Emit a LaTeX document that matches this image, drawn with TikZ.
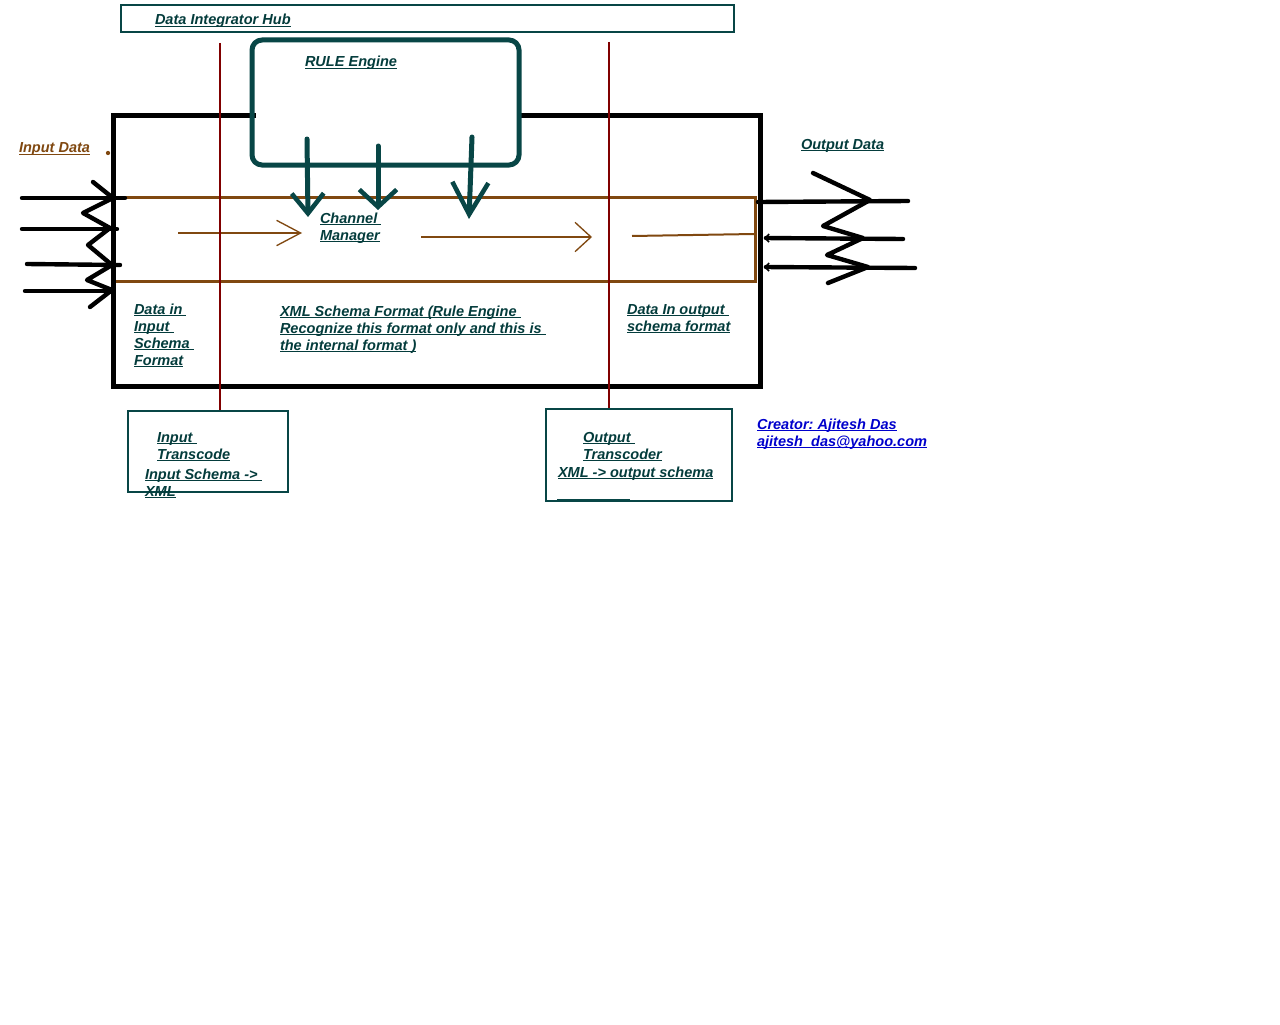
\documentclass[tikz,border=0pt]{standalone}
\usepackage{fontspec}
\setmainfont{Liberation Sans}
\usetikzlibrary{arrows.meta,fit}
\definecolor{tealc}{RGB}{8,70,70}
\definecolor{tealtxt}{RGB}{4,60,60}
\definecolor{brownc}{RGB}{128,72,16}
\definecolor{redc}{RGB}{128,0,0}
\definecolor{bluec}{RGB}{0,0,204}
\frenchspacing
\newcommand{\st}{\rule{0pt}{8.25pt}}
\newcommand{\uln}[1]{\leavevmode\setbox0=\hbox{#1}\rlap{\vrule width\wd0 height -1.0pt depth 1.6pt}\box0}
\begin{document}
\begin{tikzpicture}[x=0.75pt,y=-0.75pt,
  lbl/.style={anchor=north west, inner sep=0pt, outer sep=0pt, align=left,
    font=\fontsize{10.9}{12.75}\selectfont\bfseries\itshape, text=tealtxt},
  boxthin/.style={draw=tealc, line width=1.5pt, inner sep=0pt},
  blkline/.style={draw=black, line width=3.3pt, line cap=round, line join=round},
  redline/.style={draw=redc, line width=1.5pt},
  brownarrow/.style={draw=brownc, line width=1.5pt},
  tealarrow/.style={draw=tealc, line width=3.75pt, line cap=round}]
\useasboundingbox (0,0) rectangle (1280,1024);
\fill[white] (0,0) rectangle (1280,1024);

% hub title box
\node[boxthin, fit={(121,5) (734,32)}] (hub) {};

% brown channel
\node[fit={(113,197.5) (755,281.5)}, inner sep=0pt, draw=brownc, line width=2.25pt] (channel) {};

% brown flow arrows
\coordinate (b1s) at (178,233); \coordinate (b1e) at (302,233);
\coordinate (b2s) at (421,237); \coordinate (b2e) at (592,237);
\coordinate (b3s) at (632,236); \coordinate (b3e) at (754,234);
\draw[brownarrow, -{Straight Barb[length=18pt,width=19pt,line width=1pt]}] (b1s) -- (b1e);
\draw[brownarrow, -{Straight Barb[length=12pt,width=22pt,line width=1pt]}] (b2s) -- (b2e);
\draw[brownarrow] (b3s) -- (b3e);

% black container
\draw[draw=black, line width=3.75pt] (256,115) -| (113,386) -| (760,115) -- (517,115);

% rule engine box
\node[fit={(252,40) (519,165)}, inner sep=0pt, draw=tealc, line width=3.75pt, rounded corners=7.5pt] (rule) {};

% teal arrows from rule engine to channel
\coordinate (t1s) at (307,139); \coordinate (t1e) at (308,217);
\coordinate (t2s) at (378,146); \coordinate (t2e) at (378,210);
\coordinate (t3s) at (472,137); \coordinate (t3e) at (469,219);
\draw[tealarrow, -{Straight Barb[length=15pt,width=24pt,line width=3.4pt]}] (t1s) -- (t1e);
\draw[tealarrow, -{Straight Barb[length=13pt,width=28pt,line width=3.4pt]}] (t2s) -- (t2e);
\draw[tealarrow, -{Straight Barb[length=24pt,width=27pt,line width=3.4pt]}] (t3s) -- (t3e);

% input data arrows
\coordinate (i1s) at (22,198); \coordinate (i1e) at (125,198);
\coordinate (i2s) at (22,229); \coordinate (i2e) at (117,229);
\coordinate (i3s) at (27,264); \coordinate (i3e) at (120,265);
\coordinate (i4s) at (25,291); \coordinate (i4e) at (113,291);
\draw[blkline] (i1s) -- (i1e);
\draw[blkline] (i2s) -- (i2e);
\draw[blkline] (i3s) -- (i3e);
\draw[blkline] (i4s) -- (i4e);
\draw[blkline] (93,182) -- (113,198) -- (83,213) -- (110,228) -- (88,245) -- (112,265) -- (87,280) -- (112,290) -- (90,307);

% output data arrows
\coordinate (o1s) at (758,202); \coordinate (o1e) at (908,201);
\coordinate (o2s) at (764,238); \coordinate (o2e) at (903,239);
\coordinate (o3s) at (764,267); \coordinate (o3e) at (915,268);
\draw[blkline] (o1s) -- (o1e);
\draw[blkline, {Straight Barb[length=3pt,width=6pt,line width=1.2pt]}-] (o2s) -- (o2e);
\draw[blkline, {Straight Barb[length=3pt,width=6pt,line width=1.2pt]}-] (o3s) -- (o3e);
\draw[blkline] (813,173) -- (870,200) -- (823,226) -- (863,238) -- (827,255) -- (868,267) -- (828,283);

% transcoder boxes
\node[boxthin, fit={(128,411) (288,492)}] (intrans) {};
\node[boxthin, fit={(546,409) (732,501)}] (outtrans) {};
\draw[draw=tealc, line width=2.2pt] (557,500.5) -- (630,500.5);

% red divider lines
\coordinate (r1top) at (220,43);
\coordinate (r2top) at (609,42);
\draw[redline] (r1top) -- (r1top |- intrans.north);
\draw[redline] (r2top) -- (r2top |- outtrans.north);

% brown dot
\fill[brownc] (108,153) circle (1.6pt);

% texts
\node[lbl] (hubtxt) at (155,14) {\st\uln{Data Integrator Hub}};
\node[lbl] (ruletxt) at (305,55.5) {\st\uln{RULE Engine}};
\node[lbl, text=brownc] (indata) at (19,141.5) {\st\uln{Input Data}};
\node[lbl] (outdata) at (801,138) {\st\uln{Output Data}};
\node[lbl] (chan) at (320,212) {\st\uln{Channel\ }\\\uln{Manager}};
\node[lbl] (datain) at (134,303) {\st\uln{Data in\ }\\\uln{Input\ }\\\uln{Schema\ }\\\uln{Format}};
\node[lbl] (xmlfmt) at (280,305) {\st\uln{XML Schema Format (Rule Engine\ }\\\uln{Recognize this format only and this is\ }\\\uln{the internal format )}};
\node[lbl] (dataout) at (627,303) {\st\uln{Data In output\ }\\\uln{schema format}};
\node[lbl] (intr1) at (157,431) {\st\uln{Input\ }\\\uln{Transcode}};
\node[lbl] (intr2) at (145,468) {\st\uln{Input Schema ->\ }\\\uln{XML}};
\node[lbl] (outr1) at (583,431) {\st\uln{Output\ }\\\uln{Transcoder}};
\node[lbl] (outr2) at (558,466) {\st\uln{XML -> output schema}};
\node[lbl, text=bluec] (creator) at (757,418) {\st\uln{Creator: Ajitesh Das}\\\uln{ajitesh\_das@yahoo.com}};
\end{tikzpicture}
\end{document}
